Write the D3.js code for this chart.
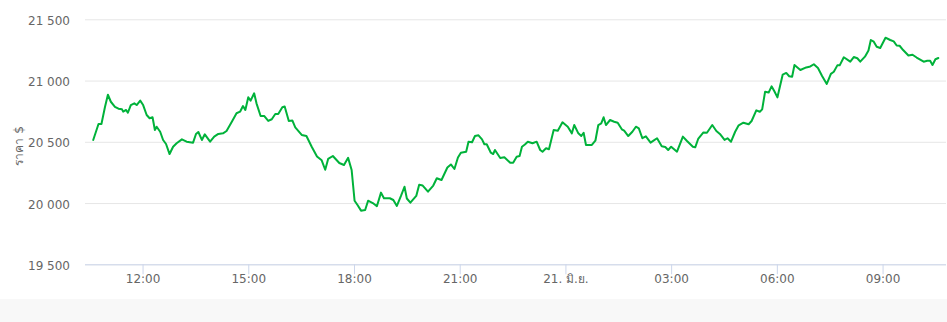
<!DOCTYPE html>
<html>
<head>
<meta charset="utf-8">
<script src="https://cdn.jsdelivr.net/npm/d3@7"></script>
<style>
  html, body { margin: 0; padding: 0; background: #fff; }
  svg { display: block; }
  svg text { font-family: "DejaVu Sans", sans-serif; }
</style>
</head>
<body>
<svg id="chart"></svg>
<script>
// price samples, 20 Jun afternoon -> 21 Jun morning
const day20 = [
  "10:36","10:45","10:50","10:56","11:01","11:06","11:13","11:19","11:25","11:27",
  "11:32","11:35","11:40","11:46","11:50","11:56","12:01","12:07","12:12","12:17",
  "12:21","12:24","12:30","12:35","12:40","12:46","12:52","12:58","13:07","13:15",
  "13:26","13:31","13:35","13:41","13:46","13:55","14:02","14:09","14:17","14:23",
  "14:32","14:40","14:46","14:51","14:55","15:00","15:04","15:10","15:14","15:21",
  "15:27","15:34","15:40","15:46","15:51","15:58","16:02","16:09","16:15","16:20",
  "16:31","16:39","16:48","16:57","17:05","17:11","17:16","17:24","17:35","17:43",
  "17:50","17:56","18:01","18:06","18:12","18:19","18:24","18:32","18:39","18:46",
  "18:51","19:01","19:07","19:13","19:20","19:26","19:30","19:36","19:46","19:51",
  "19:57","20:06","20:15","20:21","20:29","20:39","20:45","20:51","20:57","21:02",
  "21:11","21:15","21:21","21:26","21:32","21:38","21:42","21:46","21:53","21:57",
  "22:00","22:09","22:16","22:26","22:31","22:37","22:42","22:46","22:51","22:56",
  "23:04","23:11","23:17","23:21","23:27","23:32","23:40","23:47","23:55"
];
const day21 = [
  "00:04","00:11","00:15","00:22","00:27","00:31","00:35","00:45","00:51","00:56",
  "01:01","01:05","01:09","01:16","01:23","01:29","01:36","01:40","01:47","01:54",
  "02:00","02:05","02:11","02:17","02:25","02:30","02:36","02:44","02:50","02:55",
  "03:00","03:10","03:20","03:27","03:37","03:41","03:46","03:55","04:01","04:10",
  "04:17","04:23","04:31","04:36","04:42","04:49","04:55","05:03","05:12","05:17",
  "05:25","05:31","05:35","05:40","05:46","05:51","05:56","06:01","06:10","06:16",
  "06:21","06:26","06:30","06:40","06:50","06:57","07:03","07:10","07:17","07:25",
  "07:32","07:37","07:43","07:47","07:54","08:05","08:11","08:17","08:22","08:30",
  "08:36","08:40","08:45","08:50","08:56","09:05","09:13","09:19","09:24","09:29",
  "09:35","09:44","09:51","09:58","10:10","10:16","10:21","10:25","10:30","10:35"
];
const prices = [
  20515,20645,20645,20784,20884,20827,20786,20770,20765,20746,
  20760,20737,20800,20814,20800,20836,20800,20719,20692,20700,
  20596,20623,20582,20515,20482,20400,20460,20488,20520,20501,
  20493,20564,20580,20515,20561,20501,20542,20564,20569,20588,
  20664,20733,20746,20792,20760,20863,20836,20896,20814,20711,
  20711,20670,20684,20727,20727,20782,20788,20670,20674,20617,
  20556,20547,20460,20380,20349,20272,20360,20384,20327,20311,
  20369,20270,20019,19984,19938,19943,20019,20000,19974,20085,
  20039,20039,20025,19976,20058,20133,20037,20003,20058,20150,
  20143,20093,20143,20202,20188,20290,20315,20278,20372,20411,
  20419,20501,20496,20547,20553,20520,20480,20480,20411,20400,
  20433,20368,20374,20329,20329,20378,20384,20460,20478,20501,
  20488,20501,20433,20419,20447,20439,20596,20591,20659,
  20623,20569,20637,20569,20547,20574,20474,20474,20509,20637,
  20651,20700,20637,20678,20664,20656,20602,20591,20547,20582,
  20623,20609,20529,20545,20493,20509,20529,20463,20458,20433,
  20460,20419,20542,20507,20460,20455,20523,20576,20574,20637,
  20588,20564,20515,20529,20501,20582,20635,20656,20643,20670,
  20757,20745,20765,20909,20902,20953,20911,20863,21049,21062,
  21035,21031,21127,21086,21107,21115,21133,21102,21037,20972,
  21055,21072,21124,21124,21190,21154,21192,21182,21154,21195,
  21245,21331,21317,21276,21266,21350,21331,21320,21286,21284,
  21249,21204,21211,21188,21154,21161,21161,21127,21174,21184
];
const yTicks = [19500, 20000, 20500, 21000, 21500];
const xStart = "2022-06-20T10:22";
const xEnd = "2022-06-21T10:48";
const midnightLabel = "21. มิ.ย.";
const yTitle = "ราคา $";

const parse = d3.utcParse("%Y-%m-%dT%H:%M");
const data = day20.map(t => "2022-06-20T" + t)
  .concat(day21.map(t => "2022-06-21T" + t))
  .map((t, i) => ({ date: parse(t), price: prices[i] }));

const width = 947;
const height = 322;
const margin = { top: 19.3, right: 1, bottom: 57.7, left: 85 };
const font = "'DejaVu Sans', sans-serif";

const svg = d3.select("#chart").attr("width", width).attr("height", height);

// grey strip under the chart
svg.append("rect")
  .attr("x", 0).attr("y", 299)
  .attr("width", width).attr("height", height - 299)
  .attr("fill", "#f8f8f8");

const x = d3.scaleUtc()
  .domain([parse(xStart), parse(xEnd)])
  .range([margin.left, width - margin.right]);

const y = d3.scaleLinear()
  .domain([19500, 21500])
  .range([height - margin.bottom, margin.top]);

// horizontal grid + labels
const yAxis = svg.append("g")
  .attr("transform", `translate(${margin.left},0)`)
  .call(d3.axisLeft(y)
    .tickValues(yTicks)
    .tickSize(-(width - margin.left - margin.right))
    .tickPadding(15)
    .tickFormat(d => d3.format(",")(d).replace(",", " ")))
  .attr("font-family", font);
yAxis.select(".domain").remove();
yAxis.selectAll(".tick line").attr("stroke", "#e6e6e6");
yAxis.selectAll(".tick text")
  .attr("fill", "#666")
  .attr("font-size", "12px")
  .attr("dy", "0.42em");

// x axis
const xAxis = svg.append("g")
  .attr("transform", `translate(0,${y(19500)})`)
  .call(d3.axisBottom(x)
    .ticks(d3.utcHour.every(3))
    .tickSize(10)
    .tickPadding(0)
    .tickFormat(d => d.getUTCHours() === 0 ? midnightLabel : d3.utcFormat("%H:%M")(d)))
  .attr("font-family", font);
xAxis.select(".domain")
  .attr("stroke", "#ccd6eb")
  .attr("d", `M${margin.left},0.5H${width - margin.right}`);
xAxis.selectAll(".tick line").attr("stroke", "#ccd6eb");
xAxis.selectAll(".tick text")
  .attr("fill", "#666")
  .attr("font-size", "12px");

svg.append("text")
  .attr("transform", `translate(23,${(margin.top + y(19500)) / 2 + 4}) rotate(-90)`)
  .attr("text-anchor", "middle")
  .attr("fill", "#666")
  .attr("font-size", "12px")
  .attr("font-family", font)
  .text(yTitle);

const line = d3.line()
  .x(d => x(d.date))
  .y(d => y(d.price));

svg.append("path")
  .datum(data)
  .attr("d", line)
  .attr("fill", "none")
  .attr("stroke", "#00b23a")
  .attr("stroke-width", 2)
  .attr("stroke-linejoin", "round")
  .attr("stroke-linecap", "round");
</script>
</body>
</html>
